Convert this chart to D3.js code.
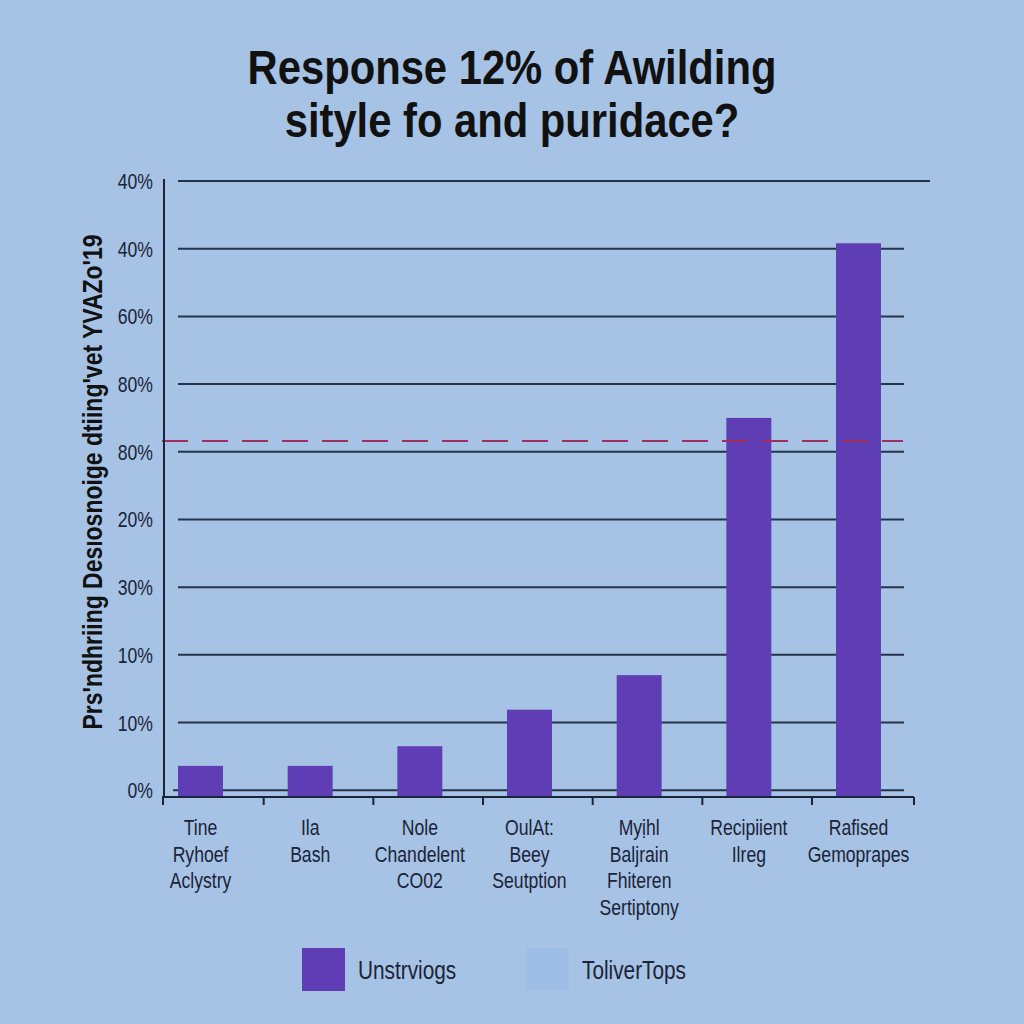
<!DOCTYPE html>
<html><head><meta charset="utf-8">
<script src="https://cdn.jsdelivr.net/npm/d3@7"></script>
<style>html,body{margin:0;padding:0;background:#a6c2e4;}svg{display:block;}</style>
</head><body>
<svg id="chart" width="1024" height="1024"></svg>
<script>
const titleLines = ["Response 12% of Awilding", "sityle fo and puridace?"];
const yAxisTitle = "Prs'ndhriing Desıosnoige dtiing'vet YVAZo'19";
const categories = [
  ["Tine", "Ryhoef", "Aclystry"],
  ["Ila", "Bash"],
  ["Nole", "Chandelent", "CO02"],
  ["OulAt:", "Beey", "Seutption"],
  ["Myịhl", "Baljrain", "Fhiteren", "Sertiptony"],
  ["Recipiient", "Ilreg"],
  ["Rafised", "Gemoprapes"]
];
const values = [3.6, 3.6, 6.5, 11.9, 17.0, 55, 80.8];
const tickValues = [0, 10, 20, 30, 40, 50, 60, 70, 80, 90];
const tickLabels = ["0%", "10%", "10%", "30%", "20%", "80%", "80%", "60%", "40%", "40%"];
const referenceValue = 51.6;
const legendLabels = ["Unstrviogs", "ToliverTops"];

const svg = d3.select("#chart");
const font = "'Liberation Sans', Arial, sans-serif";
const ink = "#1b2438";
const grid = "#24324a";
const barColor = "#5e3db5";
const SX = 0.8; // condensed look

svg.append("rect").attr("width", 1024).attr("height", 1024).attr("fill", "#a6c2e4");

function ctext(parent, x, y, txt, opts) {
  const g = parent.append("g").attr("transform", `translate(${x},${y}) ${opts.rotate ? "rotate(" + opts.rotate + ")" : ""} scale(${opts.sx || SX},1)`);
  return g.append("text")
    .attr("text-anchor", opts.anchor || "middle")
    .attr("font-family", font)
    .attr("font-weight", opts.weight || "normal")
    .attr("font-size", opts.size)
    .attr("fill", opts.fill || ink)
    .text(txt);
}

// Title
titleLines.forEach((t, i) => ctext(svg, 512, 84 + i * 53, t, {size: 48, weight: "bold", fill: "#111", sx: 0.87}));

const y = d3.scaleLinear().domain([-1, 90]).range([797, 181]);
const x = d3.scaleBand().domain(d3.range(categories.length))
  .range([163, 896]).paddingInner(0.59).paddingOuter(0.137);

// Gridlines
svg.append("g").selectAll("line").data(tickValues).join("line")
  .attr("x1", d => d === 0 ? 173 : 178)
  .attr("x2", (d, i) => i === tickValues.length - 1 ? 930 : 904)
  .attr("y1", d => y(d)).attr("y2", d => y(d))
  .attr("stroke", grid).attr("stroke-width", 2);

// Y tick labels
const yl = svg.append("g");
tickValues.forEach((v, i) => ctext(yl, 153, y(v) + 8, tickLabels[i], {size: 22, anchor: "end"}));

// Bars
svg.append("g").selectAll("rect").data(values).join("rect")
  .attr("x", (d, i) => x(i)).attr("width", x.bandwidth())
  .attr("y", d => y(d)).attr("height", d => y.range()[0] - y(d))
  .attr("fill", barColor);

// Reference dashed line
svg.append("line")
  .attr("x1", 162).attr("x2", 903)
  .attr("y1", y(referenceValue)).attr("y2", y(referenceValue))
  .attr("stroke", "#9e2f5c").attr("stroke-width", 2)
  .attr("stroke-dasharray", "26,14");

// Axes lines
svg.append("line").attr("x1", 164).attr("x2", 164).attr("y1", 179).attr("y2", 798)
  .attr("stroke", ink).attr("stroke-width", 2);
svg.append("line").attr("x1", 162).attr("x2", 914).attr("y1", 797).attr("y2", 797)
  .attr("stroke", ink).attr("stroke-width", 2);

// X ticks
const tickXs = [163].concat(d3.range(1, categories.length).map(i => x(i) - 24)).concat([914]);
svg.append("g").selectAll("line").data(tickXs).join("line")
  .attr("x1", d => d).attr("x2", d => d).attr("y1", 797).attr("y2", 805)
  .attr("stroke", ink).attr("stroke-width", 2);

// X labels
const lab = svg.append("g");
categories.forEach((lines, i) => {
  lines.forEach((t, j) => ctext(lab, x(i) + x.bandwidth() / 2, 835 + j * 26.5, t, {size: 22}));
});

// Y axis title
ctext(svg, 102, 482, yAxisTitle, {size: 28, weight: "bold", fill: "#111", rotate: -90, sx: 0.82});

// Legend
const legendColors = [barColor, "#9ebee6"];
const legendX = [302, 526];
const lg = svg.append("g");
legendLabels.forEach((t, i) => {
  lg.append("rect").attr("x", legendX[i]).attr("y", 948).attr("width", 43).attr("height", 43)
    .attr("fill", legendColors[i]);
  ctext(lg, legendX[i] + 56, 979, t, {size: 26, anchor: "start"});
});
</script>
</body></html>
